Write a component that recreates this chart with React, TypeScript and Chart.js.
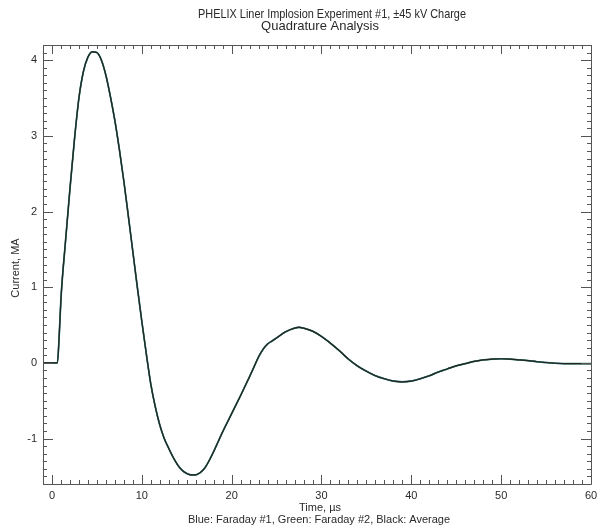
import React, { useEffect, useRef } from "react";
import { Chart, registerables } from "chart.js";

Chart.register(...registerables);

const TITLE_LINE_1 = "PHELIX Liner Implosion Experiment #1, \u00b145 kV Charge";
const TITLE_LINE_2 = "Quadrature Analysis";
const X_TITLE = "Time, \u00b5s";
const LEGEND_TEXT = "Blue: Faraday #1, Green: Faraday #2, Black: Average";
const Y_TITLE = "Current, MA";

const xTickValues = [0, 10, 20, 30, 40, 50, 60];
const yTickValues = [-1, 0, 1, 2, 3, 4];

const timeUs = [
  -1, 0, 0.6, 0.8, 1.0, 1.5, 2.0, 2.5, 3.0, 3.5, 4.0, 4.5, 5.0, 5.5, 6.0, 6.5, 7.0, 7.5,
  8.0, 8.5, 9.0, 9.5, 10.0, 10.5, 11.0, 11.5, 12.0, 12.5, 13.0, 13.5, 14.0, 14.5,
  15.0, 15.5, 16.0, 16.5, 17.0, 17.5, 18.0, 18.5, 19.0, 19.5, 20.0, 21.0, 22.0,
  22.5, 23.0, 23.5, 24.0, 24.5, 25.0, 26.0, 27.0, 27.5, 28.0, 29.0, 30.0, 31.0,
  32.0, 33.0, 34.0, 35.0, 36.0, 37.0, 38.0, 39.0, 40.0, 41.0, 42.0, 43.0, 44.0,
  45.0, 46.0, 47.0, 48.0, 49.0, 50.0, 51.0, 52.0, 53.0, 54.0, 55.0, 56.0, 57.0,
  58.0, 59.0, 60.0,
];

const faraday1 = [
  0, 0, 0, 0.35, 0.85, 1.6, 2.3, 2.95, 3.5, 3.85, 4.04, 4.11, 4.1, 4.0, 3.8, 3.52, 3.2,
  2.82, 2.4, 1.94, 1.47, 1.0, 0.55, 0.12, -0.28, -0.58, -0.82, -1.0, -1.13, -1.25,
  -1.35, -1.42, -1.46, -1.48, -1.48, -1.45, -1.39, -1.29, -1.17, -1.04, -0.91, -0.79,
  -0.67, -0.43, -0.18, -0.05, 0.08, 0.18, 0.25, 0.29, 0.33, 0.41, 0.46, 0.47, 0.46,
  0.42, 0.35, 0.26, 0.16, 0.05, -0.04, -0.11, -0.17, -0.21, -0.24, -0.25, -0.24,
  -0.21, -0.17, -0.12, -0.08, -0.04, -0.01, 0.02, 0.04, 0.05, 0.055, 0.05, 0.04,
  0.03, 0.015, 0.005, -0.005, -0.01, -0.01, -0.01, -0.01,
];

const faraday2 = [
  0, 0, 0, 0.35, 0.85, 1.6, 2.3, 2.95, 3.5, 3.85, 4.04, 4.11, 4.1, 4.0, 3.8, 3.52, 3.2,
  2.82, 2.4, 1.94, 1.47, 1.0, 0.55, 0.12, -0.28, -0.58, -0.82, -1.0, -1.13, -1.25,
  -1.35, -1.42, -1.46, -1.48, -1.48, -1.45, -1.39, -1.29, -1.17, -1.04, -0.91, -0.79,
  -0.67, -0.43, -0.18, -0.05, 0.08, 0.18, 0.25, 0.29, 0.33, 0.41, 0.46, 0.47, 0.46,
  0.42, 0.35, 0.26, 0.16, 0.05, -0.04, -0.11, -0.17, -0.21, -0.24, -0.25, -0.24,
  -0.21, -0.17, -0.12, -0.08, -0.04, -0.01, 0.02, 0.04, 0.05, 0.055, 0.05, 0.04,
  0.03, 0.015, 0.005, -0.005, -0.01, -0.01, -0.01, -0.01,
];

const average = [
  0, 0, 0, 0.35, 0.85, 1.6, 2.3, 2.95, 3.5, 3.85, 4.04, 4.11, 4.1, 4.0, 3.8, 3.52, 3.2,
  2.82, 2.4, 1.94, 1.47, 1.0, 0.55, 0.12, -0.28, -0.58, -0.82, -1.0, -1.13, -1.25,
  -1.35, -1.42, -1.46, -1.48, -1.48, -1.45, -1.39, -1.29, -1.17, -1.04, -0.91, -0.79,
  -0.67, -0.43, -0.18, -0.05, 0.08, 0.18, 0.25, 0.29, 0.33, 0.41, 0.46, 0.47, 0.46,
  0.42, 0.35, 0.26, 0.16, 0.05, -0.04, -0.11, -0.17, -0.21, -0.24, -0.25, -0.24,
  -0.21, -0.17, -0.12, -0.08, -0.04, -0.01, 0.02, 0.04, 0.05, 0.055, 0.05, 0.04,
  0.03, 0.015, 0.005, -0.005, -0.01, -0.01, -0.01, -0.01,
];

const X_MIN = -1;
const X_MAX = 60;
const Y_MIN = -1.6;
const Y_MAX = 4.2;

const FONT = "'Liberation Sans', Arial, sans-serif";
const INK = "#2a2a2a";

const toPoints = (ys: number[]) => timeUs.map((t, i) => ({ x: t, y: ys[i] }));

const framePlugin = {
  id: "idlFrame",
  afterDraw(chart: any) {
    const ctx = chart.ctx;
    const { left, right, top, bottom } = chart.chartArea;
    const xs = chart.scales.x;
    const ys = chart.scales.y;
    ctx.save();
    ctx.strokeStyle = "#555";
    ctx.lineWidth = 1;
    ctx.beginPath();
    ctx.rect(Math.round(left) + 0.5, Math.round(top) + 0.5, Math.round(right - left), Math.round(bottom - top));
    ctx.stroke();

    ctx.beginPath();
    for (let v = 0; v <= X_MAX; v += 1) {
      const px = Math.round(xs.getPixelForValue(v)) + 0.5;
      const len = v % 10 === 0 ? 9 : 4;
      ctx.moveTo(px, bottom);
      ctx.lineTo(px, bottom - len);
      ctx.moveTo(px, top);
      ctx.lineTo(px, top + len);
    }
    for (let k = -16; k <= 42; k++) {
      const v = k / 10;
      const py = Math.round(ys.getPixelForValue(v)) + 0.5;
      const len = k % 10 === 0 ? 10 : 4;
      ctx.moveTo(left, py);
      ctx.lineTo(left + len, py);
      ctx.moveTo(right, py);
      ctx.lineTo(right - len, py);
    }
    ctx.stroke();

    ctx.fillStyle = INK;
    ctx.textAlign = "center";
    ctx.textBaseline = "middle";
    ctx.font = `13px ${FONT}`;
    ctx.fillText(TITLE_LINE_1, 332, 14, 268);
    ctx.fillText(TITLE_LINE_2, 320, 26, 124);
    ctx.font = `11px ${FONT}`;
    ctx.fillText(X_TITLE, 320, 508, 42);
    ctx.fillText(LEGEND_TEXT, 319, 520, 266);

    ctx.translate(16, 268);
    ctx.rotate(-Math.PI / 2);
    ctx.fillText(Y_TITLE, 0, 0, 70);
    ctx.restore();
  },
};

export default function App() {
  const canvasRef = useRef<HTMLCanvasElement | null>(null);

  useEffect(() => {
    if (!canvasRef.current) return;
    const line = (label: string, ys: number[], color: string, width: number, order: number) => ({
      label,
      data: toPoints(ys),
      borderColor: color,
      borderWidth: width,
      pointRadius: 0,
      fill: false,
      order,
      cubicInterpolationMode: "monotone" as const,
    });
    const chart = new Chart(canvasRef.current, {
      type: "line",
      data: {
        datasets: [
          line("Faraday #1", faraday1, "#2a4aa0", 1.4, 2),
          line("Faraday #2", faraday2, "#2f7d5c", 1.7, 1),
          line("Average", average, "#232323", 1.15, 0),
        ],
      },
      options: {
        responsive: false,
        maintainAspectRatio: false,
        animation: false,
        layout: { padding: { left: 0, top: 45, right: 12, bottom: 0 } },
        plugins: {
          legend: { display: false },
          title: { display: false },
          tooltip: { enabled: false },
        },
        scales: {
          x: {
            type: "linear",
            min: X_MIN,
            max: X_MAX,
            grid: { display: false, drawTicks: false },
            border: { display: false },
            afterBuildTicks: (scale: any) => {
              scale.ticks = xTickValues.map((v) => ({ value: v }));
            },
            afterFit: (scale: any) => {
              scale.height = 47;
            },
            ticks: {
              padding: 5,
              maxRotation: 0,
              autoSkip: false,
              color: INK,
              font: { family: FONT, size: 11 },
            },
          },
          y: {
            type: "linear",
            min: Y_MIN,
            max: Y_MAX,
            grid: { display: false, drawTicks: false },
            border: { display: false },
            afterBuildTicks: (scale: any) => {
              scale.ticks = yTickValues.map((v) => ({ value: v }));
            },
            afterFit: (scale: any) => {
              scale.width = 43;
            },
            ticks: {
              padding: 6,
              autoSkip: false,
              color: INK,
              font: { family: FONT, size: 11 },
            },
          },
        },
      },
      plugins: [framePlugin],
    });
    return () => chart.destroy();
  }, []);

  return (
    <div style={{ position: "fixed", left: 0, top: 0, width: 603, height: 531, background: "#fff" }}>
      <canvas ref={canvasRef} width={603} height={531} style={{ width: 603, height: 531 }} />
    </div>
  );
}
